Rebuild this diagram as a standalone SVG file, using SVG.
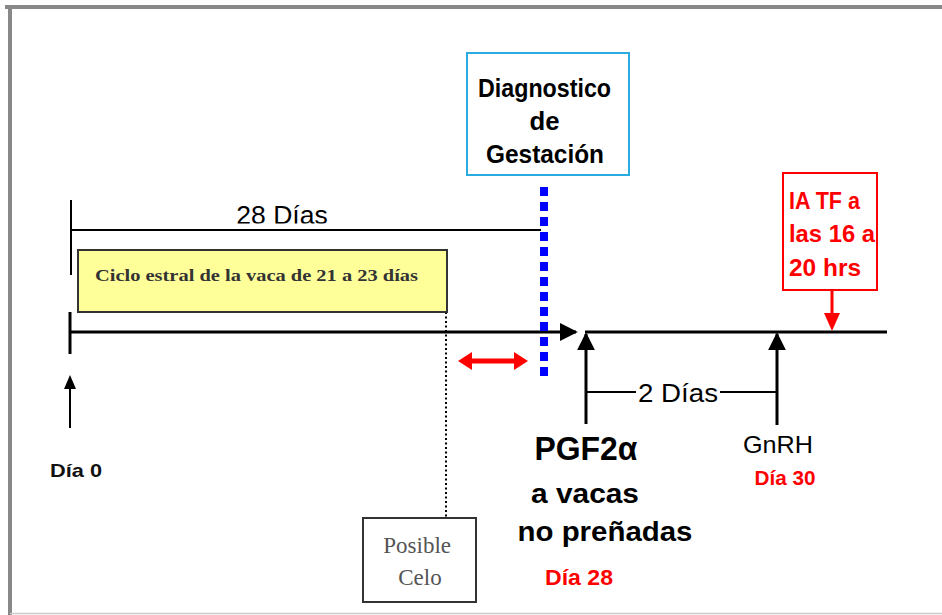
<svg xmlns="http://www.w3.org/2000/svg" width="942" height="615" viewBox="0 0 942 615">
<style>
.sans{font-family:"Liberation Sans",Arial,sans-serif}
.serif{font-family:"Liberation Serif","Times New Roman",serif}
.b{font-weight:bold}
.line{stroke:#000;stroke-width:2;fill:none}
.thick{stroke:#000;stroke-width:3;fill:none}
.red{fill:#ff0000}
.head{fill:#000}
.rhead{fill:#ff0000}
</style>
<defs>
<marker id="ah" viewBox="0 0 10 10" refX="9" refY="5" markerWidth="6" markerHeight="6" markerUnits="strokeWidth" orient="auto"><path d="M0,0 L10,5 L0,10 z" fill="#000"/></marker>
<clipPath id="cl28"><rect x="200" y="195" width="160" height="28.5"/></clipPath>
</defs>
<rect width="942" height="615" fill="#fff"/>
<g id="frame">
<line x1="5" y1="7" x2="942" y2="7" stroke="#888" stroke-width="4"/>
<line x1="10" y1="5" x2="10" y2="615" stroke="#888" stroke-width="4"/>
<line x1="10" y1="613.5" x2="942" y2="613.5" stroke="#ccc" stroke-width="1.5"/>
</g>
<g id="connectors">
<line class="line" x1="71" y1="200" x2="71" y2="275" stroke-width="1.5"/>
<line class="line" x1="71" y1="230" x2="541" y2="230" stroke-width="1.5"/>
<line class="thick" x1="70" y1="312" x2="70" y2="354" stroke-width="4"/>
<line class="thick" x1="70" y1="332" x2="576" y2="332" marker-end="url(#ah)"/>
<line class="thick" x1="585" y1="332" x2="887" y2="332"/>
<line class="thick" x1="586" y1="424" x2="586" y2="334" marker-end="url(#ah)"/>
<line class="thick" x1="777" y1="425" x2="777" y2="334" marker-end="url(#ah)"/>
<line class="line" x1="586" y1="392" x2="636" y2="392"/>
<line class="line" x1="720" y1="392" x2="777" y2="392"/>
<line class="line" x1="70" y1="428" x2="70" y2="386" stroke-width="3"/>
<path class="head" d="M70,375 L76,389 L64,389 z"/>
<line x1="446" y1="312" x2="446" y2="518" stroke="#000" stroke-width="2" stroke-dasharray="2,2.5"/>
<line x1="544" y1="187" x2="544" y2="380" stroke="#0000ff" stroke-width="8" stroke-dasharray="9,6"/>
<line x1="470" y1="361" x2="516" y2="361" stroke="#ff0000" stroke-width="5"/>
<path class="rhead" d="M458,361 L472,352 L472,370 z"/>
<path class="rhead" d="M528,361 L514,352 L514,370 z"/>
<line x1="832" y1="290" x2="832" y2="316" stroke="#ff0000" stroke-width="3"/>
<path class="rhead" d="M832,331 L824,313 L840,313 z"/>
</g>
<g id="dias28">
<text class="sans" x="282" y="224" font-size="26.5" text-anchor="middle" clip-path="url(#cl28)" fill="#000">28 Días</text>
</g>
<g id="ciclo">
<rect x="78" y="250" width="369" height="62" fill="#ffff99" stroke="#333" stroke-width="2"/>
<text class="serif b" x="95" y="281" font-size="17" textLength="323" lengthAdjust="spacingAndGlyphs" fill="#333">Ciclo estral de la vaca de 21 a 23 días</text>
</g>
<g id="diagnostico">
<rect x="467" y="53" width="162" height="122" fill="#fff" stroke="#29abe2" stroke-width="2"/>
<text class="sans b" font-size="25" text-anchor="middle" fill="#000">
<tspan x="548" y="97" textLength="133" lengthAdjust="spacingAndGlyphs">Diagnostico</tspan>
<tspan x="548" y="130" textLength="30" lengthAdjust="spacingAndGlyphs">de</tspan>
<tspan x="545" y="163" textLength="118" lengthAdjust="spacingAndGlyphs">Gestación</tspan>
</text>
</g>
<g id="ia">
<rect x="783" y="173" width="94" height="117" fill="#fff" stroke="#ff0000" stroke-width="2"/>
<text class="sans b red" font-size="24">
<tspan x="789" y="209" textLength="71" lengthAdjust="spacingAndGlyphs">IA TF a</tspan>
<tspan x="789" y="242" textLength="86" lengthAdjust="spacingAndGlyphs">las 16 a</tspan>
<tspan x="789" y="276" textLength="72" lengthAdjust="spacingAndGlyphs">20 hrs</tspan>
</text>
</g>
<g id="dia0">
<text class="sans b" x="76" y="477" font-size="19" text-anchor="middle" fill="#111" textLength="52" lengthAdjust="spacingAndGlyphs">Día 0</text>
</g>
<g id="posible">
<rect x="363" y="518" width="113" height="84" fill="#fff" stroke="#333" stroke-width="2"/>
<text class="serif" font-size="23" text-anchor="middle" fill="#555">
<tspan x="420" y="553">Posible</tspan>
<tspan x="420" y="585">Celo</tspan>
</text>
</g>
<g id="dos">
<text class="sans" x="678" y="402" font-size="25" text-anchor="middle" fill="#000" textLength="80" lengthAdjust="spacingAndGlyphs">2 Días</text>
</g>
<g id="pgf">
<text class="sans b" x="586" y="460" font-size="33" text-anchor="middle" fill="#000" textLength="103" lengthAdjust="spacingAndGlyphs">PGF2α</text>
<text class="sans b" x="585" y="503" font-size="27" text-anchor="middle" fill="#000" textLength="108" lengthAdjust="spacingAndGlyphs">a vacas</text>
<text class="sans b" x="605" y="541" font-size="27" text-anchor="middle" fill="#000" textLength="175" lengthAdjust="spacingAndGlyphs">no preñadas</text>
<text class="sans b red" x="579" y="585" font-size="22" text-anchor="middle" textLength="68" lengthAdjust="spacingAndGlyphs">Día 28</text>
</g>
<g id="gnrh">
<text class="sans" x="778" y="453" font-size="24" text-anchor="middle" fill="#000" textLength="70" lengthAdjust="spacingAndGlyphs">GnRH</text>
<text class="sans b red" x="785" y="485" font-size="20" text-anchor="middle" textLength="61" lengthAdjust="spacingAndGlyphs">Día 30</text>
</g>
</svg>
